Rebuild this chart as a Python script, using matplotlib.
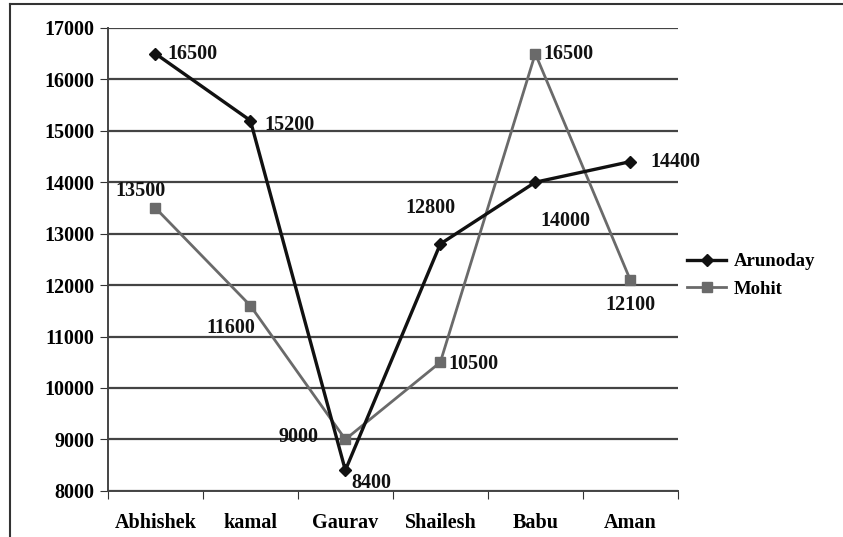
import matplotlib.pyplot as plt
from matplotlib.lines import Line2D

names = ['Abhishek', 'kamal', 'Gaurav', 'Shailesh', 'Babu', 'Aman']
arunoday = [16500, 15200, 8400, 12800, 14000, 14400]
mohit = [13500, 11600, 9000, 10500, 16500, 12100]

# label offsets in pixels (dx, dy, ha)
a_off = [(12, 0, 'left'), (14, -4, 'left'), (6, -13, 'left'),
         (-10, 36, 'center'), (30, -39, 'center'), (20, 0, 'left')]
m_off = [(-15, 17, 'center'), (-20, -22, 'center'), (-27, 2, 'right'),
         (8, -2, 'left'), (8, 0, 'left'), (0, -25, 'center')]

plt.rcParams['font.family'] = 'Liberation Serif'
plt.rcParams['font.weight'] = 'bold'
plt.rcParams['font.size'] = 14.5

fig = plt.figure(figsize=(8.43, 5.37), dpi=100)
ax = fig.add_axes([0.128, 0.086, 0.676, 0.862])

x = list(range(len(names)))
ax.plot(x, mohit, color='#6a6a6a', lw=2, marker='s', ms=7, zorder=3)
ax.plot(x, arunoday, color='#111111', lw=2.4, marker='D', ms=6, zorder=4)

for i in x:
    dx, dy, ha = a_off[i]
    ax.annotate(str(arunoday[i]), (i, arunoday[i]), xytext=(dx, dy),
                textcoords='offset pixels', ha=ha, va='center', color='#111')
    dx, dy, ha = m_off[i]
    ax.annotate(str(mohit[i]), (i, mohit[i]), xytext=(dx, dy),
                textcoords='offset pixels', ha=ha, va='center', color='#111')

ax.set_xlim(-0.5, 5.5)
ax.set_ylim(8000, 17000)
ax.set_yticks(range(8000, 17001, 1000))
ax.yaxis.grid(True, color='#444', lw=1.6)
ax.set_axisbelow(True)
ax.set_xticks([i + 0.5 for i in range(-1, 6)], minor=False)
ax.set_xticklabels([])
ax.set_xticks(x, minor=True)
ax.set_xticklabels(names, minor=True)
ax.tick_params(axis='x', which='minor', length=0, pad=16)
ax.tick_params(axis='x', which='major', length=6, color='#333', direction='out')
ax.tick_params(axis='y', length=6, color='#333', direction='out')
for s in ['top', 'right']:
    ax.spines[s].set_visible(False)
for s in ['left', 'bottom']:
    ax.spines[s].set_color('#444')
    ax.spines[s].set_linewidth(1.4)

handles = [Line2D([], [], color='#111111', lw=2.4, marker='D', ms=6),
           Line2D([], [], color='#6a6a6a', lw=2, marker='s', ms=7)]
fig.legend(handles, ['Arunoday', 'Mohit'], loc='center left',
           bbox_to_anchor=(0.795, 0.487), frameon=False, handlelength=2.1,
           handletextpad=0.4, labelspacing=0.55, fontsize=13.5)

# outer frame (left and top edges)
fig.add_artist(Line2D([0.012, 0.012], [0, 0.992], color='#333', lw=1.5))
fig.add_artist(Line2D([0.012, 1.0], [0.992, 0.992], color='#333', lw=1.5))

fig.savefig('out.png', dpi=100)
